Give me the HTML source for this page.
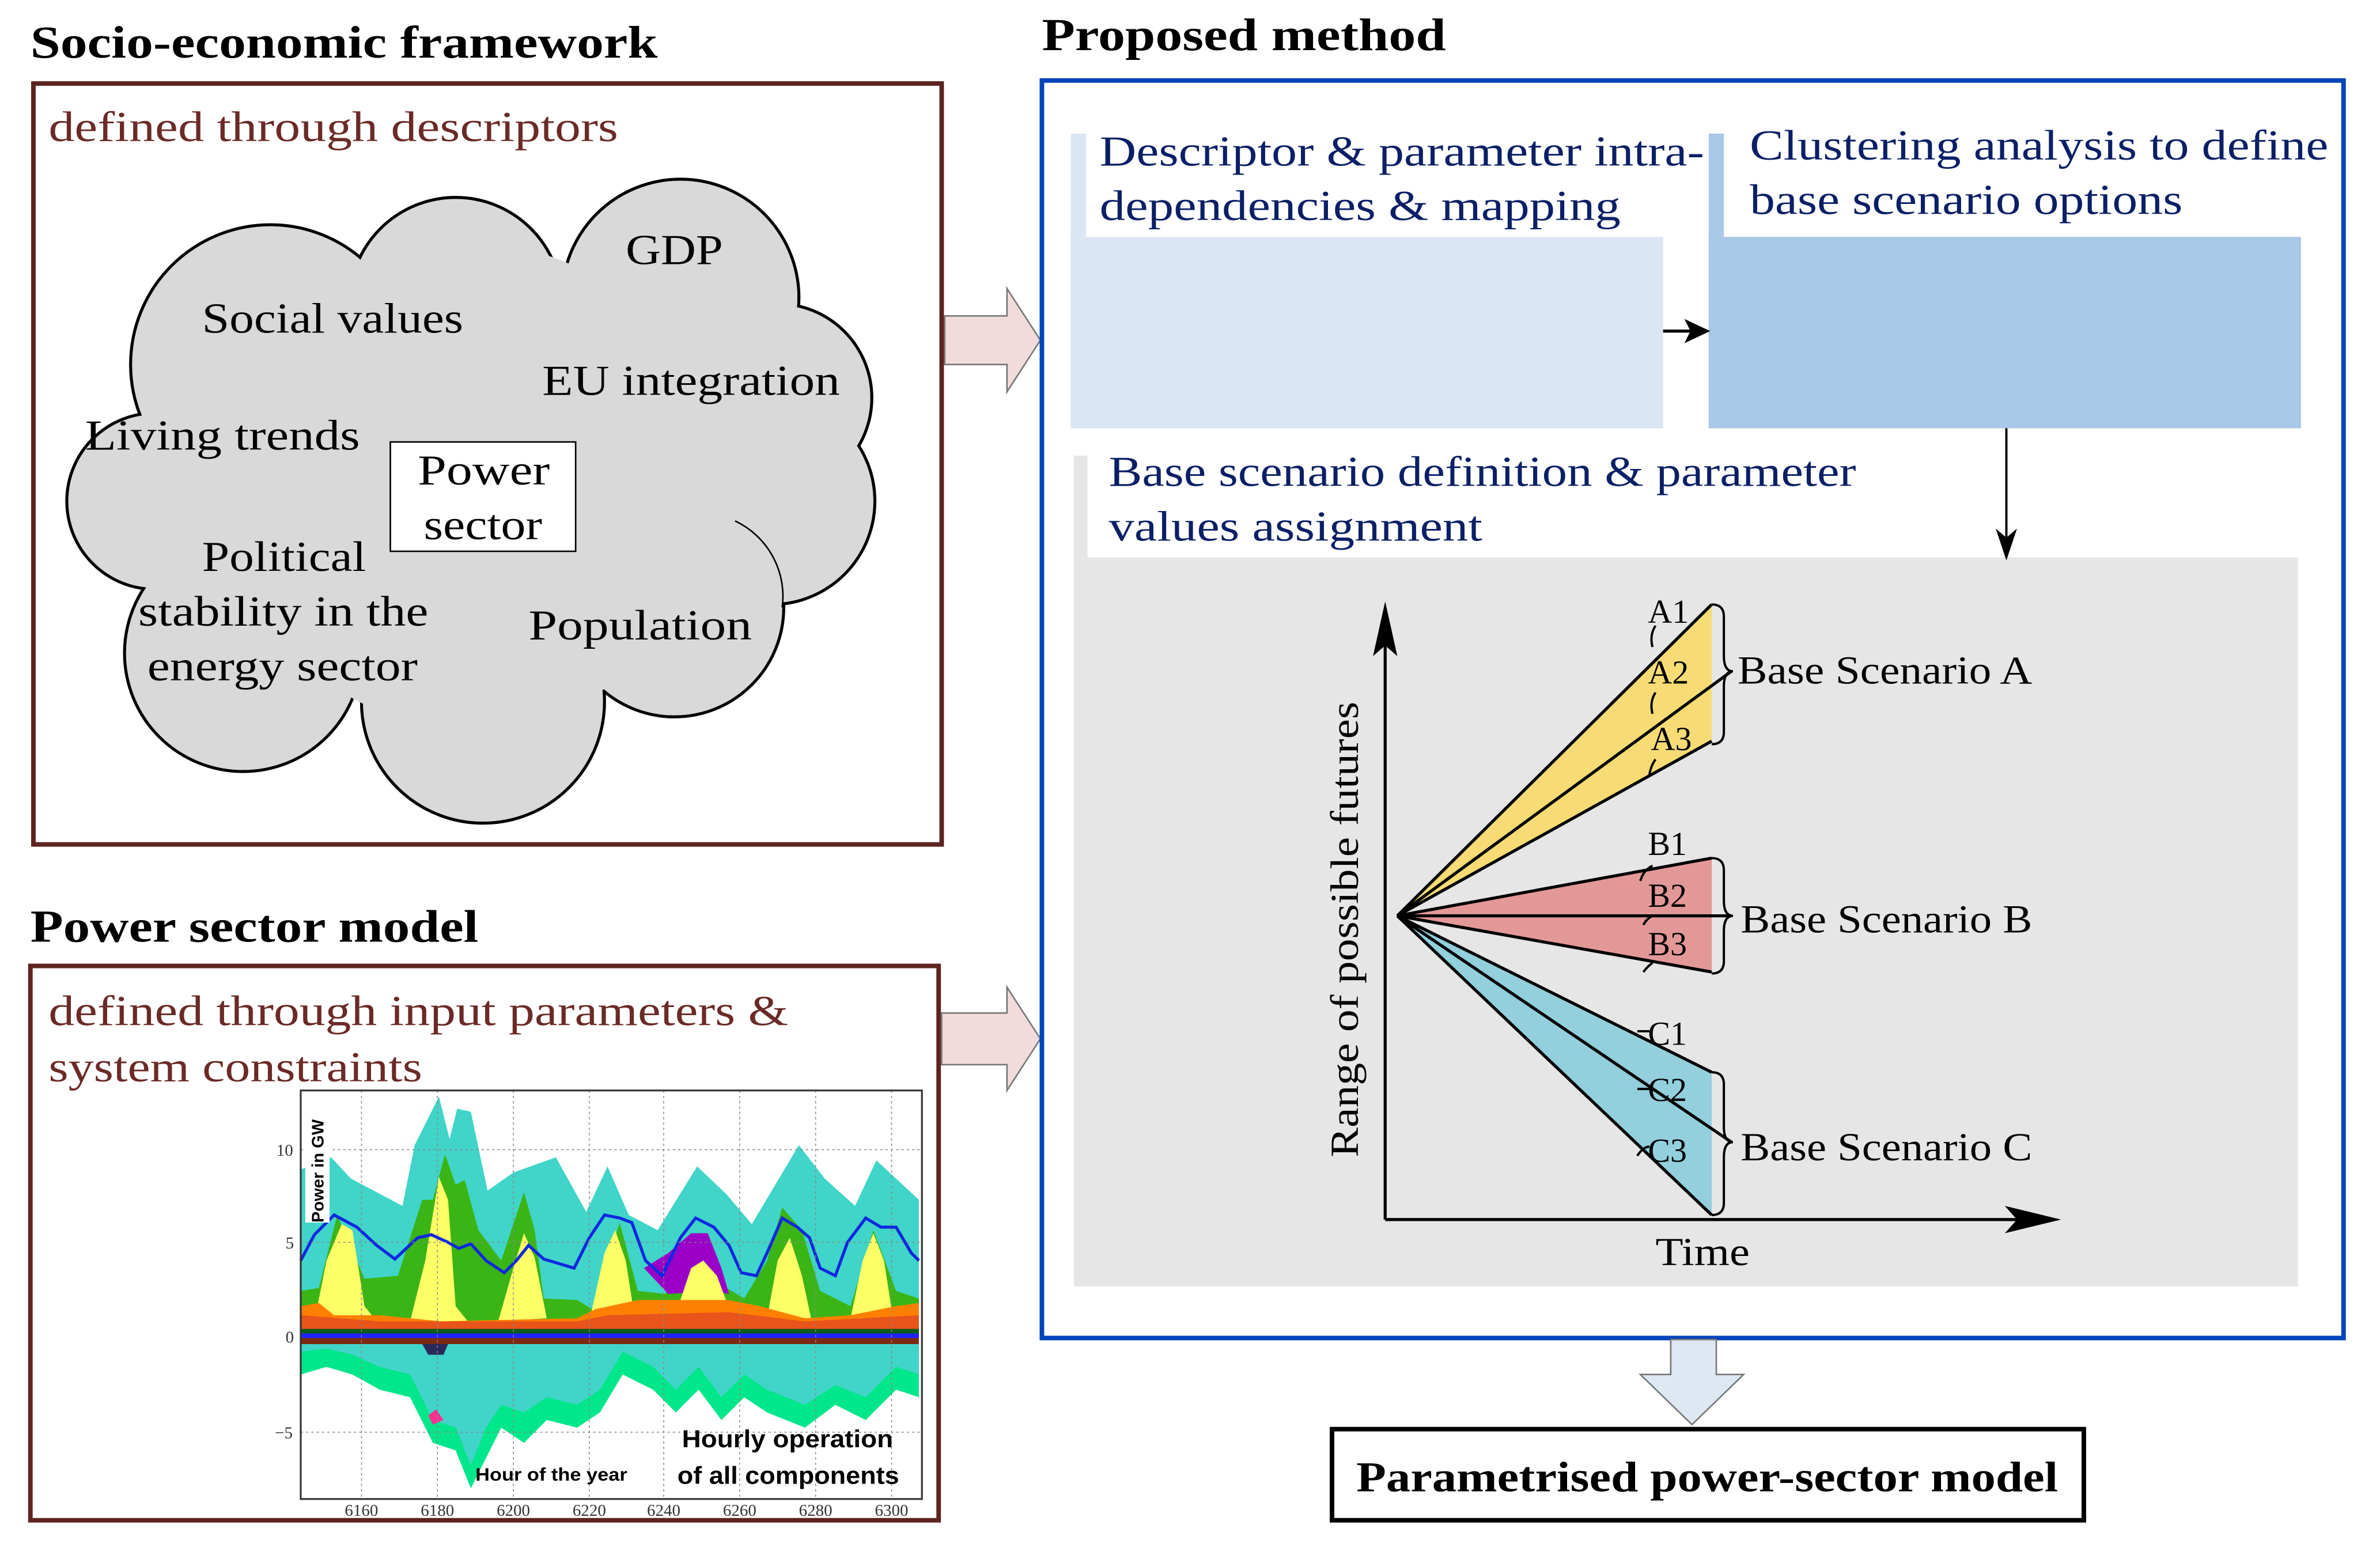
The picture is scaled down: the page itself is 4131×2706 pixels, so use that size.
<!DOCTYPE html>
<html><head><meta charset="utf-8"><style>
html,body{margin:0;padding:0;background:#fff}
svg{display:block}
text{font-family:"Liberation Serif",serif}
.s{font-family:"Liberation Sans",sans-serif}
</style></head><body>
<svg width="4131" height="2706" viewBox="0 0 1567 1026.5" preserveAspectRatio="none" xmlns="http://www.w3.org/2000/svg">
<rect width="1567" height="1027" fill="#fff"/>
<!-- Titles -->
<g font-weight="bold" font-size="30" fill="#000">
<text x="20" y="38" textLength="413" lengthAdjust="spacingAndGlyphs">Socio-economic framework</text>
<text x="686" y="33" textLength="266" lengthAdjust="spacingAndGlyphs">Proposed method</text>
<text x="20" y="620" textLength="295" lengthAdjust="spacingAndGlyphs">Power sector model</text>
</g>
<!-- left boxes -->
<rect x="22" y="55" width="598" height="501" fill="none" stroke="#5e2420" stroke-width="3"/>
<rect x="20" y="636" width="598" height="365" fill="none" stroke="#5e2420" stroke-width="3"/>
<g font-size="28" fill="#6b2a26">
<text x="32" y="93" textLength="375" lengthAdjust="spacingAndGlyphs">defined through descriptors</text>
<text x="32" y="675" textLength="487" lengthAdjust="spacingAndGlyphs">defined through input parameters &amp;</text>
<text x="32" y="712" textLength="246" lengthAdjust="spacingAndGlyphs">system constraints</text>
</g>
<!-- cloud as union of circles -->
<g stroke="#000" stroke-width="2" fill="#d9d9d9">
<circle cx="178" cy="240" r="92"/>
<circle cx="300" cy="200" r="70"/>
<circle cx="448" cy="196" r="78"/>
<circle cx="512" cy="262" r="62"/>
<circle cx="508" cy="330" r="68"/>
<circle cx="444" cy="400" r="72"/>
<circle cx="318" cy="462" r="80"/>
<circle cx="160" cy="430" r="78"/>
<circle cx="102" cy="330" r="58"/>
</g>
<g fill="#d9d9d9">
<circle cx="178" cy="240" r="91"/>
<circle cx="300" cy="200" r="69"/>
<circle cx="448" cy="196" r="77"/>
<circle cx="512" cy="262" r="61"/>
<circle cx="508" cy="330" r="67"/>
<circle cx="444" cy="400" r="71"/>
<circle cx="318" cy="462" r="79"/>
<circle cx="160" cy="430" r="77"/>
<circle cx="102" cy="330" r="57"/>
<circle cx="310" cy="320" r="160"/>
</g>
<path d="M484,343 A55,55 0 0 1 515,400" fill="none" stroke="#000" stroke-width="1"/>
<g font-size="28" fill="#000">
<text x="412" y="174" textLength="64" lengthAdjust="spacingAndGlyphs">GDP</text>
<text x="133" y="219" textLength="172" lengthAdjust="spacingAndGlyphs">Social values</text>
<text x="357" y="260" textLength="196" lengthAdjust="spacingAndGlyphs">EU integration</text>
<text x="56" y="296" textLength="181" lengthAdjust="spacingAndGlyphs">Living trends</text>
<text x="133" y="376" textLength="108" lengthAdjust="spacingAndGlyphs">Political</text>
<text x="91" y="412" textLength="191" lengthAdjust="spacingAndGlyphs">stability in the</text>
<text x="97" y="448" textLength="178" lengthAdjust="spacingAndGlyphs">energy sector</text>
<text x="348" y="421" textLength="147" lengthAdjust="spacingAndGlyphs">Population</text>
</g>
<rect x="257" y="291" width="122" height="72" fill="#fff" stroke="#000" stroke-width="1"/>
<text x="275" y="319" font-size="28" textLength="87" lengthAdjust="spacingAndGlyphs">Power</text>
<text x="279" y="355" font-size="28" textLength="78" lengthAdjust="spacingAndGlyphs">sector</text>
<!-- pink arrows -->
<path d="M622,208 H663 V190 L685,224 L663,258 V240 H622 Z" fill="#f2dcdb" stroke="#777" stroke-width="1"/>
<path d="M620,667 H663 V650 L685,684 L663,718 V701 H620 Z" fill="#f2dcdb" stroke="#777" stroke-width="1"/>
<!-- power chart -->
<g>
<rect x="198" y="718" width="409" height="269" fill="#fff"/>
<polygon fill="#40d5c8" points="198,770 218,762 231,776 265,794 273,754 289,722 296,750 301,730 310,732 321,784 338,772 366,762 386,798 400,768 414,800 433,810 459,768 478,786 495,806 526,754 543,776 563,794 577,764 605,790 605,880 198,880"/>
<polygon fill="#3bb515" points="198,850 210,848 222,800 240,842 262,840 278,790 285,790 289,775 293,760 300,780 306,777 315,810 330,830 345,785 352,810 358,855 380,856 390,862 400,830 408,805 420,850 438,852 450,835 470,843 490,855 505,830 515,795 528,810 540,850 560,860 575,810 590,850 605,855 605,880 198,880"/>
<polygon fill="#9a00c8" points="424,835 440,825 455,812 466,812 475,835 480,852 470,850 440,852"/>
<polygon fill="#ffff66" points="207,870 215,830 225,806 232,810 240,860 248,870"/>
<polygon fill="#ffff66" points="270,870 280,830 289,775 295,790 300,860 308,870"/>
<polygon fill="#ffff66" points="328,870 338,835 345,812 352,828 360,868"/>
<polygon fill="#ffff66" points="388,870 398,825 405,810 412,830 418,868"/>
<polygon fill="#ffff66" points="448,856 455,835 463,830 472,840 478,856"/>
<polygon fill="#ffff66" points="505,868 512,830 520,815 528,840 534,868"/>
<polygon fill="#ffff66" points="560,868 568,830 575,812 582,830 588,868"/>
<polygon fill="#ff8000" points="198,860 210,858 220,866 250,866 290,870 380,868 392,862 420,856 480,856 500,860 530,868 560,866 590,860 605,858 605,876 198,876"/>
<polygon fill="#e8541a" points="198,866 250,870 380,870 400,866 480,864 530,870 605,866 605,876 198,876"/>
<rect x="198" y="875" width="407" height="3" fill="#0a5a1a"/>
<rect x="198" y="878" width="407" height="3" fill="#2020ff"/>
<rect x="198" y="881" width="407" height="4" fill="#7a2a10"/>
<polygon fill="#00e68a" points="198,885 605,885 605,920 590,915 570,935 550,925 530,940 505,930 490,920 475,935 460,915 445,930 430,915 410,905 395,930 380,940 360,935 345,950 330,940 320,960 310,980 300,955 285,950 270,920 250,915 232,905 215,900 198,905"/>
<polygon fill="#40d5c8" points="198,885 605,885 605,905 590,900 570,920 550,912 530,925 505,915 490,905 475,920 460,900 445,915 430,900 410,890 395,915 380,925 360,920 345,930 330,925 320,940 310,965 300,940 285,935 270,905 250,900 232,892 215,888 198,890"/>
<polygon fill="#2a2a5a" points="278,885 295,885 292,892 282,892"/>
<polygon fill="#ff3090" points="282,932 287,928 292,935 285,938"/>
<polyline fill="none" stroke="#1028e0" stroke-width="2" points="198,830 207,813 220,800 235,808 248,820 260,829 275,815 284,813 295,818 302,822 310,819 320,830 332,838 340,830 348,820 358,829 368,832 378,835 388,815 398,800 408,802 416,805 425,830 436,840 448,815 458,802 470,808 480,820 488,838 498,840 505,825 515,802 525,808 533,815 540,835 550,840 558,818 570,802 580,808 590,808 600,825 605,830"/>
<g stroke="#888" stroke-width="0.6" stroke-dasharray="1.5,2">
<line x1="198" y1="757" x2="607" y2="757"/><line x1="198" y1="818" x2="607" y2="818"/><line x1="198" y1="943" x2="607" y2="943"/>
<line x1="238" y1="718" x2="238" y2="987"/><line x1="288" y1="718" x2="288" y2="987"/><line x1="338" y1="718" x2="338" y2="987"/><line x1="388" y1="718" x2="388" y2="987"/><line x1="437" y1="718" x2="437" y2="987"/><line x1="487" y1="718" x2="487" y2="987"/><line x1="537" y1="718" x2="537" y2="987"/><line x1="587" y1="718" x2="587" y2="987"/>
</g>
<rect x="198" y="718" width="409" height="269" fill="none" stroke="#333" stroke-width="1.2"/>
<rect x="201" y="735" width="16" height="70" fill="#fff"/>
<text class="s" x="0" y="0" font-size="11" font-weight="bold" transform="translate(213,805) rotate(-90)" textLength="68" lengthAdjust="spacingAndGlyphs">Power in GW</text>
<g class="s" font-size="11" fill="#333">
<text x="182" y="761">10</text><text x="188" y="822">5</text><text x="188" y="884">0</text><text x="181" y="947">−5</text>
</g>
<g class="s" font-size="11" fill="#333" text-anchor="middle">
<text x="238" y="998">6160</text><text x="288" y="998">6180</text><text x="338" y="998">6200</text><text x="388" y="998">6220</text><text x="437" y="998">6240</text><text x="487" y="998">6260</text><text x="537" y="998">6280</text><text x="587" y="998">6300</text>
</g>
<text class="s" x="313" y="975" font-size="12" font-weight="bold" textLength="100" lengthAdjust="spacingAndGlyphs">Hour of the year</text>
<text class="s" x="449" y="953" font-size="16" font-weight="bold" textLength="139" lengthAdjust="spacingAndGlyphs">Hourly operation</text>
<text class="s" x="446" y="977" font-size="16" font-weight="bold" textLength="146" lengthAdjust="spacingAndGlyphs">of all components</text>
</g>
<!-- proposed method box -->
<rect x="686" y="53" width="857" height="828" fill="none" stroke="#0044bb" stroke-width="3"/>
<rect x="705" y="88" width="10" height="194" fill="#dae6f3"/>
<rect x="705" y="156" width="390" height="126" fill="#dae6f3"/>
<rect x="1125" y="88" width="10" height="194" fill="#a9c7e6"/>
<rect x="1125" y="156" width="390" height="126" fill="#a9c7e6"/>
<rect x="707" y="300" width="9" height="547" fill="#e6e6e6"/>
<rect x="707" y="367" width="806" height="480" fill="#e6e6e6"/>
<g font-size="28" fill="#0a1f66">
<text x="724" y="109" textLength="398" lengthAdjust="spacingAndGlyphs">Descriptor &amp; parameter intra-</text>
<text x="724" y="145" textLength="343" lengthAdjust="spacingAndGlyphs">dependencies &amp; mapping</text>
<text x="1152" y="105" textLength="381" lengthAdjust="spacingAndGlyphs">Clustering analysis to define</text>
<text x="1152" y="141" textLength="285" lengthAdjust="spacingAndGlyphs">base scenario options</text>
<text x="730" y="320" textLength="492" lengthAdjust="spacingAndGlyphs">Base scenario definition &amp; parameter</text>
<text x="730" y="356" textLength="246" lengthAdjust="spacingAndGlyphs">values assignment</text>
</g>
<line x1="1095" y1="218" x2="1113" y2="218" stroke="#000" stroke-width="2"/>
<path d="M1126,218 L1109,210 L1113,218 L1109,226 Z" fill="#000"/>
<line x1="1321" y1="282" x2="1321" y2="356" stroke="#000" stroke-width="1.5"/>
<path d="M1321,369 L1314,348 L1321,354 L1328,348 Z" fill="#000"/>
<!-- fan diagram -->
<polygon points="920,603 1127,398 1127,488" fill="#f7dc75"/>
<polygon points="920,603 1127,565 1127,640" fill="#e39898"/>
<polygon points="920,603 1127,706 1127,800" fill="#93cfdd"/>
<g stroke="#000" stroke-width="2" fill="none">
<line x1="920" y1="603" x2="1127" y2="398"/><line x1="920" y1="603" x2="1140" y2="442"/><line x1="920" y1="603" x2="1127" y2="488"/>
<line x1="920" y1="603" x2="1127" y2="565"/><line x1="920" y1="603" x2="1140" y2="603"/><line x1="920" y1="603" x2="1127" y2="640"/>
<line x1="920" y1="603" x2="1127" y2="706"/><line x1="920" y1="603" x2="1140" y2="752"/><line x1="920" y1="603" x2="1127" y2="800"/>
<line x1="912" y1="410" x2="912" y2="803"/><line x1="912" y1="803" x2="1340" y2="803"/>
</g>
<path d="M912,396 L904,432 L912,425 L920,432 Z" fill="#000"/>
<path d="M1357,803 L1320,794 L1328,803 L1320,812 Z" fill="#000"/>
<g stroke="#000" stroke-width="1.5" fill="none">
<path d="M1127,398 q8,0 8,8 v26 q0,10 6,10 q-6,0 -6,10 v30 q0,8 -8,8"/>
<path d="M1127,565 q8,0 8,8 v20 q0,10 6,10 q-6,0 -6,10 v20 q0,8 -8,8"/>
<path d="M1127,706 q8,0 8,8 v28 q0,10 6,10 q-6,0 -6,10 v30 q0,8 -8,8"/>
<path d="M1090,412 q-4,6 -2,14"/><path d="M1090,456 q-4,6 -2,14"/><path d="M1090,500 q-3,4 -4,10"/>
<path d="M1088,570 q-6,3 -8,10"/><path d="M1088,603 q-4,2 -6,6"/><path d="M1088,634 q-3,2 -6,6"/>
<path d="M1086,679 h-8"/><path d="M1086,717 h-8"/><path d="M1086,755 q-4,0 -8,6"/>
</g>
<g font-size="22" fill="#000">
<text x="1085" y="410">A1</text><text x="1085" y="450">A2</text><text x="1087" y="494">A3</text>
<text x="1085" y="563">B1</text><text x="1085" y="597">B2</text><text x="1085" y="629">B3</text>
<text x="1085" y="688">C1</text><text x="1085" y="725">C2</text><text x="1085" y="765">C3</text>
</g>
<g font-size="26" fill="#000">
<text x="1144" y="450" textLength="194" lengthAdjust="spacingAndGlyphs">Base Scenario A</text>
<text x="1146" y="614" textLength="192" lengthAdjust="spacingAndGlyphs">Base Scenario B</text>
<text x="1146" y="764" textLength="192" lengthAdjust="spacingAndGlyphs">Base Scenario C</text>
<text x="1090" y="833" textLength="62" lengthAdjust="spacingAndGlyphs">Time</text>
<text x="0" y="0" transform="translate(894,762) rotate(-90)" textLength="300" lengthAdjust="spacingAndGlyphs">Range of possible futures</text>
</g>
<!-- down arrow & final box -->
<path d="M1100,882 H1130 V905 H1148 L1114,938 L1080,905 H1100 Z" fill="#dde8f3" stroke="#777" stroke-width="1"/>
<rect x="877" y="941" width="495" height="60" fill="#fff" stroke="#000" stroke-width="3"/>
<text x="893" y="982" font-size="28" font-weight="bold" textLength="462" lengthAdjust="spacingAndGlyphs">Parametrised power-sector model</text>
</svg>
</body></html>
